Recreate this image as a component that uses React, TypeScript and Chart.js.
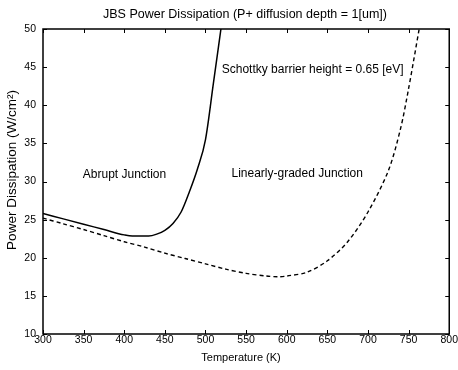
import React, { useEffect, useRef } from "react";
import { Chart, registerables } from "chart.js";
Chart.register(...registerables);

const chartTitle = "JBS Power Dissipation (P+ diffusion depth = 1[um])";
const xTitle = "Temperature (K)";
const yTitle = "Power Dissipation (W/cm²)";
const labelAbrupt = "Abrupt Junction";
const labelGraded = "Linearly-graded Junction";
const labelBarrier = "Schottky barrier height = 0.65 [eV]";

const abruptT = [300, 325, 350, 375, 400, 410, 420, 430, 440, 450, 460, 470, 480, 490, 500, 510, 519];
const abruptP = [25.8, 25.1, 24.4, 23.7, 23.0, 22.85, 22.85, 22.85, 23.1, 23.6, 24.5, 26.0, 28.6, 31.6, 35.5, 43.1, 50];

const gradedT = [300, 325, 350, 375, 400, 425, 450, 475, 500, 525, 550, 575, 590, 600, 625, 650, 675, 700, 725, 740, 750, 763];
const gradedP = [25.2, 24.45, 23.7, 22.9, 22.1, 21.4, 20.6, 19.9, 19.2, 18.5, 17.95, 17.6, 17.5, 17.6, 18.1, 19.6, 22.1, 26.0, 31.4, 36.9, 42.2, 50];

const xMin = 300, xMax = 800, xStep = 50;
const yMin = 10, yMax = 50, yStep = 5;

const FONT = "Arial, 'Liberation Sans', sans-serif";

const decorPlugin = {
  id: "decor",
  afterDraw(chart: any) {
    const ctx = chart.ctx;
    const a = chart.chartArea;
    const xs = chart.scales.x;
    const ys = chart.scales.y;
    ctx.save();
    ctx.strokeStyle = "#000";
    ctx.lineWidth = 1.5;
    ctx.strokeRect(a.left, a.top, a.right - a.left, a.bottom - a.top);
    const tl = 4;
    ctx.lineWidth = 1;
    ctx.beginPath();
    xs.ticks.forEach((t: any) => {
      const px = Math.round(xs.getPixelForValue(t.value)) + 0.5;
      ctx.moveTo(px, a.bottom);
      ctx.lineTo(px, a.bottom - tl);
      ctx.moveTo(px, a.top);
      ctx.lineTo(px, a.top + tl);
    });
    ys.ticks.forEach((t: any) => {
      const py = Math.round(ys.getPixelForValue(t.value)) + 0.5;
      ctx.moveTo(a.left, py);
      ctx.lineTo(a.left + tl, py);
      ctx.moveTo(a.right, py);
      ctx.lineTo(a.right - tl, py);
    });
    ctx.stroke();

    ctx.fillStyle = "#000";
    ctx.textBaseline = "middle";
    ctx.textAlign = "center";
    ctx.font = `12.5px ${FONT}`;
    ctx.fillText(chartTitle, 245, 15);
    ctx.font = `11px ${FONT}`;
    ctx.fillText(xTitle, 241, 358);
    ctx.save();
    ctx.translate(12, 170);
    ctx.rotate(-Math.PI / 2);
    ctx.font = `13.5px ${FONT}`;
    ctx.fillText(yTitle, 0, 0);
    ctx.restore();

    ctx.textAlign = "left";
    ctx.font = `12px ${FONT}`;
    ctx.fillText(labelAbrupt, xs.getPixelForValue(349), ys.getPixelForValue(30.9));
    ctx.fillText(labelGraded, xs.getPixelForValue(532), ys.getPixelForValue(31.0));
    ctx.fillText(labelBarrier, xs.getPixelForValue(520), ys.getPixelForValue(44.6));
    ctx.restore();
  },
};

export default function App() {
  const ref = useRef<HTMLCanvasElement>(null);
  useEffect(() => {
    document.body.style.margin = "0";
    const chart = new Chart(ref.current!, {
      type: "line",
      data: {
        datasets: [
          {
            label: labelAbrupt,
            data: abruptT.map((t, i) => ({ x: t, y: abruptP[i] })),
            borderColor: "#000",
            borderWidth: 1.5,
            pointRadius: 0,
            cubicInterpolationMode: "monotone",
            fill: false,
          },
          {
            label: labelGraded,
            data: gradedT.map((t, i) => ({ x: t, y: gradedP[i] })),
            borderColor: "#000",
            borderWidth: 1.4,
            borderDash: [4, 3],
            pointRadius: 0,
            tension: 0.3,
            fill: false,
          },
        ],
      },
      options: {
        animation: false,
        responsive: false,
        layout: { padding: { top: 29, right: 8, left: 0, bottom: 0 } },
        plugins: { legend: { display: false }, title: { display: false }, tooltip: { enabled: false } },
        scales: {
          x: {
            type: "linear",
            min: xMin,
            max: xMax,
            ticks: { stepSize: xStep, color: "#000", font: { family: FONT, size: 10.5 }, padding: 0, maxRotation: 0 },
            grid: { display: false, drawTicks: false },
            border: { display: false },
            afterFit: (s: any) => { s.height = 36; },
          },
          y: {
            type: "linear",
            min: yMin,
            max: yMax,
            ticks: { stepSize: yStep, color: "#000", font: { family: FONT, size: 10.5 }, padding: 7 },
            grid: { display: false, drawTicks: false },
            border: { display: false },
            afterFit: (s: any) => { s.width = 43; },
          },
        },
      } as any,
      plugins: [decorPlugin],
    });
    return () => chart.destroy();
  }, []);
  return (
    <div style={{ width: 458, height: 370, background: "#fff" }}>
      <canvas ref={ref} width={458} height={370} />
    </div>
  );
}
